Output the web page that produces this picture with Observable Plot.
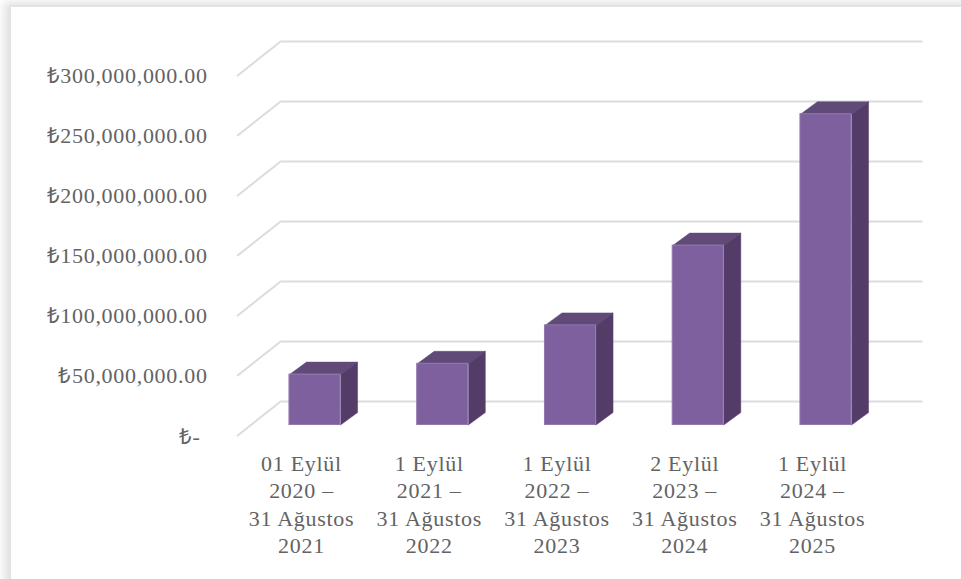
<!DOCTYPE html>
<html><head><meta charset="utf-8">
<script src="https://cdn.jsdelivr.net/npm/d3@7"></script>
<script src="https://cdn.jsdelivr.net/npm/@observablehq/plot@0.6"></script>
<style>
html,body{margin:0;padding:0;background:#fff;overflow:hidden}
#frame{position:absolute;left:0;top:0;width:961px;height:579px;overflow:hidden;background:#fff}
#sheet{position:absolute;left:9px;top:5px;width:960px;height:590px;background:#fff;border-left:2px solid #e4e4e4;border-top:2px solid #e4e4e4;box-shadow:-5px -3px 8px #e2e2e2}
#chart{position:absolute;left:0;top:0}
#chart svg{display:block;background:transparent}
#chart text{letter-spacing:.7px}
</style></head><body>
<div id="frame"><div id="sheet"></div><div id="chart"></div></div>
<script>
const periods = ["01 Eylül\n2020 –\n31 Ağustos\n2021","1 Eylül\n2021 –\n31 Ağustos\n2022","1 Eylül\n2022 –\n31 Ağustos\n2023","2 Eylül\n2023 –\n31 Ağustos\n2024","1 Eylül\n2024 –\n31 Ağustos\n2025"];
const values = [42000000, 51000000, 83000000, 149500000, 259000000];
const tickValues = [50000000, 100000000, 150000000, 200000000, 250000000, 300000000];
const tickLabels = ["₺50,000,000.00","₺100,000,000.00","₺150,000,000.00","₺200,000,000.00","₺250,000,000.00","₺300,000,000.00"];
const zeroLabel = "₺-";
const wallDepthX = 0.337, wallDepthY = 28300000, barOffset = -0.094, barWidth = 0.4;
const barDepthX = 0.133, barDepthY = 10400000, barBase = 8750000, leftEdge = -0.5, rightEdge = 4.518;

const gridLines = [0, ...tickValues].flatMap(v => [
  {v, x: leftEdge, y: v},
  {v, x: leftEdge + wallDepthX, y: v + wallDepthY},
  {v, x: rightEdge + wallDepthX, y: v + wallDepthY}
]);
const bars = values.map((v, i) => ({i, x1: i + barOffset, x2: i + barOffset + barWidth, y1: barBase, y2: barBase + v}));
const topFace = bars.flatMap(b => [
  {i: b.i, x: b.x1, y: b.y2},
  {i: b.i, x: b.x1 + barDepthX, y: b.y2 + barDepthY},
  {i: b.i, x: b.x2 + barDepthX, y: b.y2 + barDepthY},
  {i: b.i, x: b.x2, y: b.y2}
]);
const sideFace = bars.flatMap(b => [
  {i: b.i, x: b.x2, y: b.y1},
  {i: b.i, x: b.x2 + barDepthX, y: b.y1 + barDepthY},
  {i: b.i, x: b.x2 + barDepthX, y: b.y2 + barDepthY},
  {i: b.i, x: b.x2, y: b.y2}
]);
const font = "'Liberation Serif','Times New Roman',serif";
const plot = Plot.plot({
  width: 961, height: 579, margin: 0,
  style: {background: "transparent"},
  x: {type: "linear", domain: [-0.5, 5], range: [237.1, 939.7], axis: null},
  y: {type: "linear", domain: [0, 300000000], range: [435, 75], axis: null},
  marks: [
    Plot.line(gridLines, {x: "x", y: "y", z: "v", stroke: "#dcdcdc", strokeWidth: 2}),
    Plot.line(topFace, {x: "x", y: "y", z: "i", fill: "#604a78", stroke: "#604a78", strokeWidth: 0.5}),
    Plot.line(sideFace, {x: "x", y: "y", z: "i", fill: "#533d68", stroke: "#533d68", strokeWidth: 0.5}),
    Plot.rect(bars, {x1: "x1", x2: "x2", y1: "y1", y2: "y2", fill: "#7f609f", stroke: "#9079ad", strokeWidth: 1}),
    Plot.text(tickValues, {x: () => leftEdge, y: d => d, text: (d, i) => tickLabels[i], textAnchor: "end", dx: -30, dy: 0.5, fontFamily: font, fontSize: 22, fill: "#636363"}),
    Plot.text([0], {x: () => leftEdge, y: d => d, text: () => zeroLabel, textAnchor: "end", dx: -37, dy: 1, fontFamily: font, fontSize: 22, fill: "#636363"}),
    Plot.text(periods, {x: (d, i) => i, y: () => -13000000, text: d => d, lineAnchor: "top", lineHeight: 1.25, textAnchor: "middle", fontFamily: font, fontSize: 22, fill: "#636363"})
  ]
});
document.getElementById("chart").append(plot);
</script>
</body></html>
